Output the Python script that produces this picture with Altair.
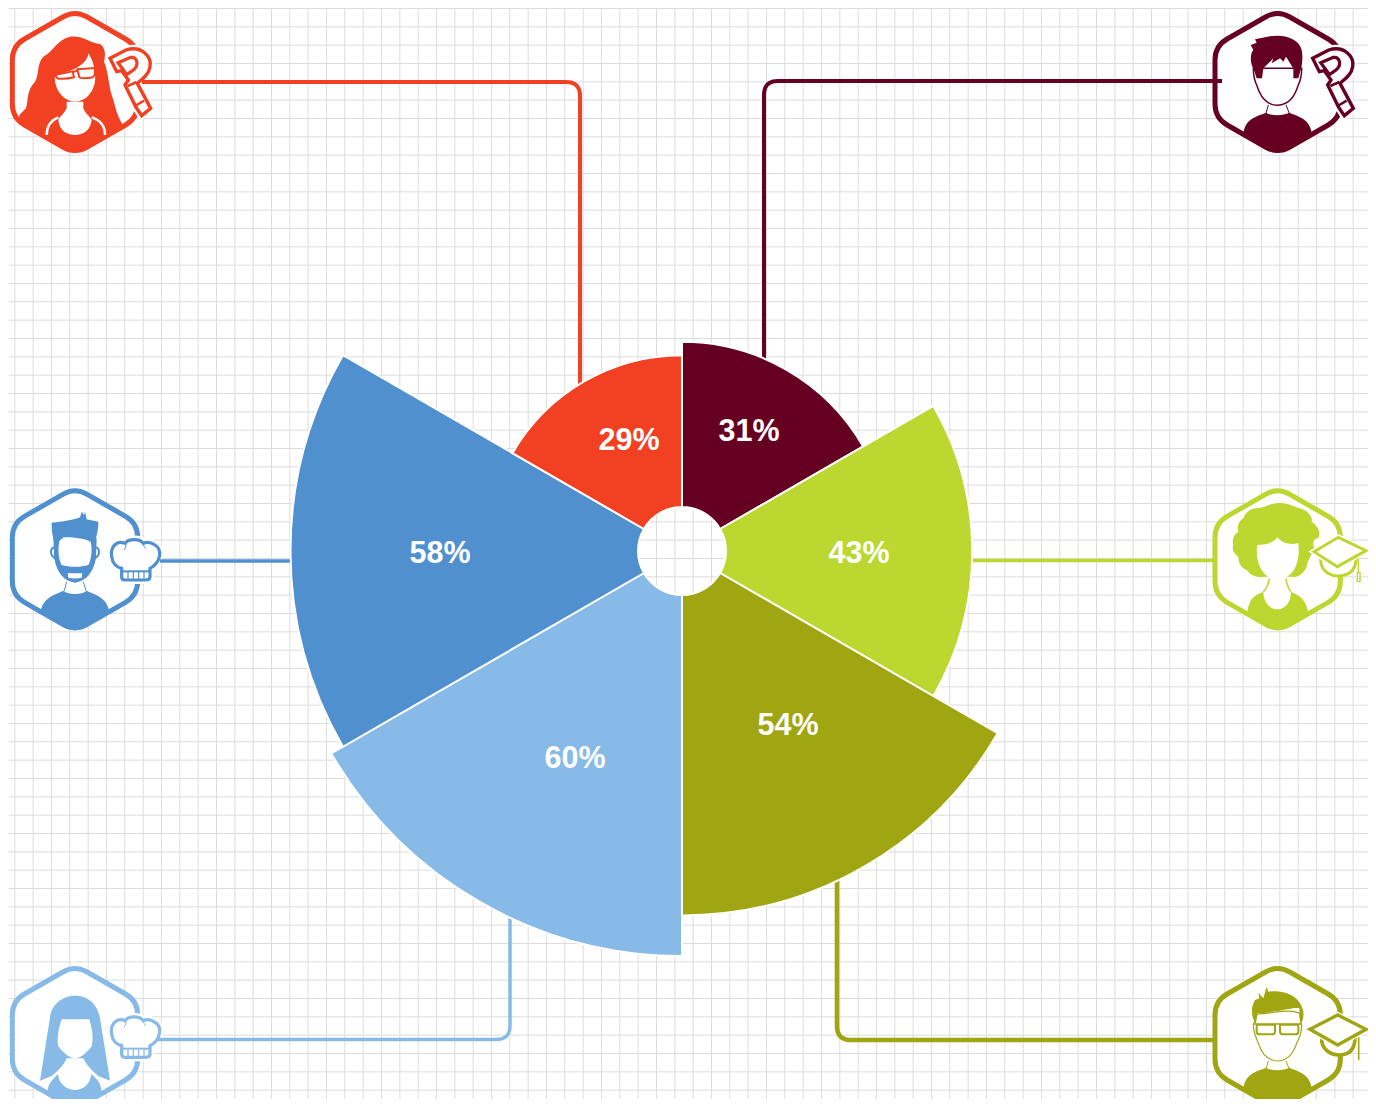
import math
import re
import altair as alt
import pandas as pd

# ---- chart values -------------------------------------------------------
names = ["Dark", "Lime", "Olive", "Light blue", "Blue", "Red"]
values = [31, 43, 54, 60, 58, 29]
colors = ["#660022", "#BCD72F", "#A0A611", "#87BAE6", "#5090CF", "#F24022"]
labels = ["31%", "43%", "54%", "60%", "58%", "29%"]
label_x = [749, 859, 788, 575, 440, 629]
label_y = [432, 554, 726, 759, 554, 441]

XMAX, YMAX = 1368, 1099
grid_x = [14.33 + k * 55 / 3 for k in range(74) if 14.33 + k * 55 / 3 <= XMAX]
grid_y = [8 + k * 55 / 3 for k in range(60) if 8 + k * 55 / 3 <= YMAX]

RED, DARK, LIME, OLIVE, LIGHT, BLUE = colors[5], colors[0], colors[1], colors[2], colors[3], colors[4]
W = "#FFFFFF"
NONE = "transparent"


def P(path, dx=0, dy=0):
    """Zoomed sketch coordinates -> pixel offsets from the icon's origin."""
    out, i = [], 0
    for tok in re.findall(r"[MLCQZ]|-?\d+\.?\d*", path):
        if tok.isalpha():
            out.append(tok)
        else:
            v = float(tok) + (dx if i % 2 == 0 else dy)
            out.append(f"{v / 3:.2f}")
            i += 1
    return " ".join(out)


def hexa(cx, cy):
    R, H, L = 216, 188, 42
    V = [(cx, cy - R), (cx + H, cy - 108), (cx + H, cy + 108), (cx, cy + R), (cx - H, cy + 108), (cx - H, cy - 108)]
    s = ""
    for i, v in enumerate(V):
        a, b = V[i - 1], V[(i + 1) % 6]
        da, db = math.dist(a, v), math.dist(b, v)
        p1 = (v[0] + (a[0] - v[0]) * L / da, v[1] + (a[1] - v[1]) * L / da)
        p2 = (v[0] + (b[0] - v[0]) * L / db, v[1] + (b[1] - v[1]) * L / db)
        s += f"{'M' if i == 0 else 'L'} {p1[0]:.1f} {p1[1]:.1f} Q {v[0]} {v[1]} {p2[0]:.1f} {p2[1]:.1f} "
    return s + "Z"


HOOK = ("M 330 175 L 378 150 C 425 135 455 170 450 200 C 447 222 430 235 412 250 L 452 325 L 425 347 L 408 322 "
        "L 375 255 L 385 240 L 365 212 L 350 215 Z")
HOOK_IN = "M 354 188 L 392 172 C 412 170 418 195 400 210 L 380 224 L 372 212 Z"
HOOK_CUT = "M 383 258 L 410 246 M 405 318 L 432 302"
CHEF = ("M 365 265 L 365 290 Q 365 300 375 300 L 435 300 Q 450 300 450 290 L 450 265 C 480 250 490 210 465 195 "
        "C 450 185 440 185 430 190 C 420 175 385 175 375 190 C 350 180 330 200 335 230 C 337 250 350 262 365 265 Z")
CHEF_BAND = "M 368 274 L 447 274"
CHEF_STRIPES = "M 384 276 L 384 296 M 400 276 L 400 296 M 416 276 L 416 296 M 432 276 L 432 296"
CHEF_ARCS = "M 377 190 C 380 198 376 204 372 210 M 431 190 C 430 198 434 202 438 206"

rows = []


def add(ox, oy, path, fill=NONE, stroke=NONE, sw=0):
    rows.append({"x": ox, "y": oy, "path": path, "fill": fill, "stroke": stroke, "sw": sw, "n": len(rows)})


def chef(ox, oy, c, dy):
    add(ox, oy, P(CHEF, 0, dy), W, W, 8)
    add(ox, oy, P(CHEF, 0, dy), W, c, 3.2)
    add(ox, oy, P(CHEF_BAND, 0, dy), NONE, c, 2)
    add(ox, oy, P(CHEF_STRIPES, 0, dy), NONE, c, 1.2)
    add(ox, oy, P(CHEF_ARCS, 0, dy), NONE, c, 1)


def hook(ox, oy, c, dx):
    add(ox, oy, P(HOOK, dx, 0), W, W, 8)
    add(ox, oy, P(HOOK, dx, 0), W, c, 3.4)
    add(ox, oy, P(HOOK_IN, dx, 0), W, c, 3.2)
    add(ox, oy, P(HOOK_CUT, dx, 0), NONE, c, 2.5)


# ---- red woman
o = (0, 0)
add(*o, P(hexa(225, 246)), W, RED, 5)
add(*o, P("M 210 110 C 250 105 270 130 300 132 C 315 140 318 165 312 185 C 325 215 325 250 335 285 "
          "C 345 310 345 335 370 379 L 261 441 Q 225 462 189 441 L 58 365 L 58 345 L 78 325 C 85 300 80 270 105 245 "
          "C 118 225 110 190 130 170 C 160 155 170 120 210 110 Z"), RED)
add(*o, P("M 265 160 C 262 195 215 215 165 225 C 160 265 190 305 225 305 C 262 305 290 265 285 225 "
          "C 285 200 275 175 265 160 Z"), W)
add(*o, P("M 168 224 L 218 214 L 222 232 Q 200 238 175 236 Q 165 232 168 224 Z"), W, RED, 2)
add(*o, P("M 232 208 L 284 204 Q 288 225 278 232 Q 250 238 238 232 Z"), W, RED, 2)
add(*o, P("M 218 216 L 232 212"), NONE, RED, 2)
add(*o, P("M 200 305 L 200 325 C 190 345 178 350 175 360 C 178 395 205 405 225 405 C 250 405 272 390 275 360 "
          "C 270 350 255 340 250 325 L 250 305 Z"), W)
add(*o, P("M 140 405 C 140 375 155 360 175 352"), NONE, W, 2.5)
add(*o, P("M 315 405 C 315 375 300 360 275 352"), NONE, W, 2.5)
hook(*o, RED, 0)

# ---- dark man
o = (1200, 0)
BODY_M = ("M 130 403 C 135 355 170 350 198 338 C 215 348 250 348 268 338 C 295 350 330 355 336 403 "
          "L 269 441 Q 233 462 197 441 Z")
add(*o, P(hexa(233, 246)), W, DARK, 5)
add(*o, P(BODY_M), DARK)
add(*o, P("M 160 205 C 160 230 165 245 170 255 C 180 285 195 315 232 316 C 270 315 285 285 295 255 "
          "C 300 245 305 230 305 205 Z"), W, DARK, 1.5)
add(*o, P("M 152 135 L 170 128 L 165 118 L 195 112 C 240 100 295 110 305 150 C 310 175 305 200 302 210 L 295 235 "
          "L 280 235 L 280 205 C 270 190 265 180 258 170 L 250 185 L 240 175 L 215 190 L 220 175 L 190 205 L 186 235 "
          "L 170 235 L 160 205 C 150 190 150 160 160 150 Z"), DARK)
add(*o, P("M 205 315 L 198 340 M 258 315 L 268 340"), NONE, DARK, 1)
hook(*o, DARK, 8)

# ---- blue man
o = (0, 480)
add(*o, P(hexa(225, 238)), W, BLUE, 5)
add(*o, P("M 122 395 C 130 350 165 345 190 332 C 205 345 245 345 260 332 C 285 345 320 350 328 395 "
          "L 261 433 Q 225 454 189 433 Z"), BLUE)
add(*o, P("M 200 305 L 193 332 M 250 305 L 258 332"), NONE, BLUE, 1)
add(*o, P("M 165 203 C 150 200 148 225 165 235 Z"), W, BLUE, 2)
add(*o, P("M 285 203 C 300 200 302 225 285 235 Z"), W, BLUE, 2)
add(*o, P("M 160 175 L 290 175 L 288 235 C 280 280 255 305 225 308 C 195 305 170 280 163 235 Z"), BLUE)
add(*o, P("M 180 178 C 210 170 250 170 270 178 C 278 200 275 240 265 255 C 245 262 205 262 185 255 "
          "C 175 240 172 200 180 178 Z"), W)
add(*o, P("M 203 280 L 247 280 L 245 293 Q 225 298 205 293 Z"), W)
add(*o, P("M 155 128 C 185 125 225 120 240 112 L 245 95 L 252 105 L 255 95 L 260 118 L 295 125 C 295 150 290 170 285 180 "
          "L 270 185 C 260 175 210 170 190 172 L 175 185 L 162 182 C 155 160 155 140 155 128 Z"), BLUE)
chef(*o, BLUE, 0)

# ---- lime woman
o = (1200, 480)
add(*o, P(hexa(233, 238)), W, LIME, 5)
add(*o, P("M 232 70 C 260 65 280 80 300 85 C 320 90 340 110 335 125 C 350 135 365 155 355 175 C 340 175 335 195 345 205 "
          "C 335 225 325 235 320 260 C 310 285 285 295 275 290 L 195 290 C 170 295 150 285 140 270 C 125 265 115 250 115 230 "
          "C 100 220 95 205 100 195 C 95 180 100 165 115 155 C 110 140 115 125 130 115 C 135 100 150 85 170 85 "
          "C 190 85 210 70 232 70 Z"), LIME)
add(*o, P("M 172 195 C 195 195 220 190 232 172 C 245 190 270 195 295 190 C 300 235 290 295 232 298 "
          "C 180 295 165 235 172 195 Z"), W)
add(*o, P("M 142 402 C 145 355 165 345 190 335 C 190 365 210 388 232 388 C 255 388 275 365 272 335 "
          "C 295 345 320 355 325 402 L 269 433 Q 233 454 197 433 Z"), LIME)
add(*o, P("M 208 295 C 205 315 200 325 190 335 M 258 295 C 260 315 265 325 272 335"), NONE, LIME, 1.5)
CAP_BASE = "M 362 235 C 360 280 400 290 420 288 C 450 285 468 270 468 235"
add(*o, P(CAP_BASE), W, LIME, 3)
add(*o, P("M 342 215 L 415 172 L 498 212 L 412 260 Z"), W, W, 6)
add(*o, P("M 342 215 L 415 172 L 498 212 L 412 260 Z"), W, LIME, 3)
add(*o, P("M 475 235 L 475 278"), NONE, LIME, 1.4)
add(*o, P("M 472 278 L 480 278 L 480 305 L 472 305 Z"), W, LIME, 1.4)

# ---- light-blue woman
o = (0, 950)
add(*o, P(hexa(225, 261)), W, LIGHT, 5)
add(*o, P("M 225 137 C 270 137 295 170 300 205 L 330 392 L 295 378 C 280 365 262 350 250 325 L 200 325 "
          "C 190 350 170 365 155 378 L 120 392 L 152 190 C 160 160 190 137 225 137 Z"), LIGHT)
add(*o, P("M 185 208 L 268 208 C 278 240 280 270 275 288 C 260 310 240 325 225 325 C 210 325 190 310 175 288 "
          "C 170 270 175 235 185 208 Z"), W)
add(*o, P("M 142 431 C 142 405 155 390 174 372 C 175 400 200 420 225 420 C 250 420 272 400 274 372 "
          "C 295 390 305 405 305 431 L 261 456 Q 225 477 189 456 Z"), LIGHT)
chef(*o, LIGHT, 22)

# ---- olive man
o = (1200, 950)
add(*o, P(hexa(233, 261)), W, OLIVE, 5)
add(*o, P(BODY_M, 0, 15), OLIVE)
add(*o, P("M 160 225 C 160 250 170 265 175 280 C 185 310 205 332 233 333 C 265 332 280 310 290 280 "
          "C 298 265 305 250 305 225 L 298 190 C 270 175 220 190 172 192 Z"), W, OLIVE, 1.2)
add(*o, P("M 175 128 L 190 145 L 200 110 L 205 125 C 240 120 300 130 310 185 C 312 200 308 215 300 222 L 298 175 "
          "C 280 170 220 190 172 190 L 168 222 C 155 205 150 175 165 150 L 178 145 Z"), OLIVE)
add(*o, P("M 160 222 L 305 222"), NONE, OLIVE, 1.6)
add(*o, P("M 170 224 L 225 224 L 225 245 Q 225 253 215 253 L 180 253 Q 170 253 170 245 Z"), W, OLIVE, 2)
add(*o, P("M 240 224 L 295 224 L 295 245 Q 295 253 285 253 L 250 253 Q 240 253 240 245 Z"), W, OLIVE, 2)
add(*o, P("M 205 333 L 198 358 M 258 333 L 268 358"), NONE, OLIVE, 1)
add(*o, P("M 365 262 C 362 300 395 316 420 315 C 450 314 465 295 465 262"), W, OLIVE, 3.6)
add(*o, P("M 330 238 L 413 195 L 498 238 L 413 285 Z"), W, W, 6)
add(*o, P("M 330 238 L 413 195 L 498 238 L 413 285 Z"), W, OLIVE, 3.4)
add(*o, P("M 476 262 L 476 330"), NONE, OLIVE, 1.6)

icons = pd.DataFrame(rows)

# ---- leader lines
leaders = [
    (RED, 4, [(142, 82), (580, 82), (580, 390)]),
    (DARK, 4, [(1222, 81), (764, 81), (764, 365)]),
    (BLUE, 3.5, [(160, 561), (296, 561)]),
    (LIME, 3.5, [(1213, 560.5), (966, 560.5)]),
    (LIGHT, 3.5, [(158, 1039.5), (510, 1039.5), (510, 910)]),
    (OLIVE, 4.6, [(1213, 1040), (837, 1040), (837, 875)]),
]


def rounded(pts, r=14):
    out = [pts[0]]
    for a, b, c in zip(pts, pts[1:], pts[2:]):
        d1, d2 = math.dist(a, b), math.dist(b, c)
        u = ((a[0] - b[0]) / d1, (a[1] - b[1]) / d1)
        v = ((c[0] - b[0]) / d2, (c[1] - b[1]) / d2)
        p0 = (b[0] + u[0] * r, b[1] + u[1] * r)
        p1 = (b[0] + v[0] * r, b[1] + v[1] * r)
        for t in [i / 10 for i in range(11)]:
            out.append(((1 - t) ** 2 * p0[0] + 2 * t * (1 - t) * b[0] + t * t * p1[0],
                        (1 - t) ** 2 * p0[1] + 2 * t * (1 - t) * b[1] + t * t * p1[1]))
    out.append(pts[-1])
    return out


line_rows = []
for g, (c, w, pts) in enumerate(leaders):
    for i, (x, y) in enumerate(rounded(pts)):
        line_rows.append({"g": g, "i": i, "x": x, "y": y, "c": c, "w": w})
lines = pd.DataFrame(line_rows)

sectors = pd.DataFrame({
    "name": names, "value": values, "color": colors, "label": labels,
    "lx": label_x, "ly": label_y, "idx": range(6), "share": [1] * 6,
})

XS = alt.Scale(domain=[8, XMAX], range=[0, XMAX - 8], nice=False, zero=False)
YS = alt.Scale(domain=[8, YMAX], range=[0, YMAX - 8], nice=False, zero=False)

grid_axis = dict(grid=True, labels=False, ticks=False, domain=False, title=None,
                 gridColor="#DCDCDC", gridWidth=1, tickRound=False)
AX = alt.Axis(values=grid_x, **grid_axis)
AY = alt.Axis(values=grid_y, **grid_axis)


def X(field):
    return alt.X(field, scale=XS, axis=AX)


def Y(field):
    return alt.Y(field, scale=YS, axis=AY)


icon_layer = alt.Chart(icons).mark_point(filled=True, size=4, opacity=1).encode(
    x=X("x:Q"),
    y=Y("y:Q"),
    shape=alt.Shape("path:N", scale=None, legend=None),
    fill=alt.Fill("fill:N", scale=None, legend=None),
    stroke=alt.Stroke("stroke:N", scale=None, legend=None),
    strokeWidth=alt.StrokeWidth("sw:Q", scale=None, legend=None),
    order=alt.Order("n:Q"),
)

line_layer = alt.Chart(lines).mark_line(strokeCap="butt").encode(
    x=X("x:Q"),
    y=Y("y:Q"),
    detail="g:N",
    order=alt.Order("i:Q"),
    stroke=alt.Stroke("c:N", scale=None, legend=None),
    strokeWidth=alt.StrokeWidth("w:Q", scale=None, legend=None),
)

arcs = alt.Chart(sectors).transform_stack(
    stack="share", groupby=[], as_=["a0", "a1"], sort=[alt.SortField("idx", order="ascending")]
).mark_arc(innerRadius=44, stroke="#FFFFFF", strokeWidth=2).encode(
    theta=alt.Theta("a0:Q", scale=alt.Scale(domain=[0, 6], range=[0, 2 * math.pi])),
    theta2=alt.Theta2("a1:Q"),
    radius=alt.Radius("value:Q", scale=alt.Scale(type="linear", domain=[0, 100], range=[0, 675])),
    fill=alt.Fill("color:N", scale=None, legend=None),
    x=alt.value(674),
    y=alt.value(543),
)

text = alt.Chart(sectors).mark_text(
    font="Liberation Sans", fontSize=30.5, fontWeight="bold", color="#FFFFFF", align="center", baseline="middle"
).encode(
    x=X("lx:Q"),
    y=Y("ly:Q"),
    text="label:N",
)

chart = alt.layer(icon_layer, line_layer, arcs, text).properties(
    width=XMAX - 8, height=YMAX - 8, padding=0, background="#FFFFFF",
    autosize=alt.AutoSizeParams(type="none"),
).configure_view(stroke=None)

chart.save("out.html", embed_options={"renderer": "svg", "actions": False})
